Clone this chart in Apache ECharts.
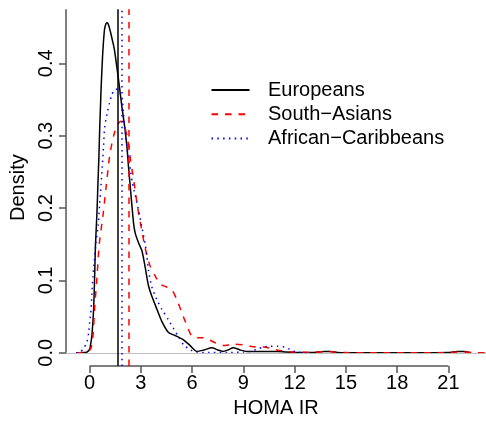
<!DOCTYPE html>
<html>
<head>
<meta charset="utf-8">
<script src="https://cdn.jsdelivr.net/npm/echarts@6/dist/echarts.min.js"></script>
<style>html,body{margin:0;padding:0;background:#fff;}#c{width:486px;height:423px;}</style>
</head>
<body>
<div id="c"></div>
<script>
// ---- data ----
var seriesNames = ['Europeans', 'South\u2212Asians', 'African\u2212Caribbeans'];
var xTicks = [0, 3, 6, 9, 12, 15, 18, 21];
var yTicks = [0, 0.1, 0.2, 0.3, 0.4];
var meanValues = [1.64, 2.27, 1.85];

var eurX = [-0.8,-0.5,-0.3,-0.16,0,0.05,0.13,0.23,0.29,0.34,0.42,0.48,0.54,0.59,0.63,0.67,0.72,0.78,0.87,0.96,1.04,1.12,1.2,1.3,1.44,1.6,1.75,1.89,2.05,2.18,2.27,2.37,2.47,2.58,2.67,2.86,3.06,3.25,3.44,3.64,3.94,4.23,4.61,5.0,5.49,5.88,6.27,6.7,7.15,7.5,7.8,8.1,8.4,8.8,9.2,10,11,11.5,12,13,13.7,14.1,14.5,15,18,21,21.5,21.9,22.3];
var eurY = [0,0,0.0005,0.001,0.005,0.011,0.024,0.06,0.105,0.15,0.19,0.231,0.271,0.312,0.339,0.366,0.393,0.42,0.447,0.455,0.456,0.452,0.445,0.435,0.42,0.393,0.366,0.339,0.312,0.285,0.258,0.231,0.204,0.177,0.165,0.152,0.141,0.118,0.093,0.078,0.06,0.043,0.028,0.024,0.018,0.010,0.002,0.004,0.007,0.004,0.002,0.004,0.007,0.004,0.002,0.002,0.002,0.001,0.0005,0.0005,0.002,0.002,0.0005,0,0,0.0003,0.002,0.002,0.0003];

var saX = [-0.8,-0.5,-0.26,-0.06,0.1,0.2,0.3,0.43,0.56,0.78,0.97,1.16,1.3,1.44,1.6,1.75,1.9,2.05,2.2,2.3,2.4,2.5,2.6,2.7,2.86,3.06,3.2,3.35,3.54,3.84,4.13,4.5,4.81,5.11,5.4,5.69,5.98,6.3,6.66,6.9,7.25,7.5,7.83,8.2,8.5,9.0,9.4,9.8,10.2,10.6,10.95,11.5,12,13,13.6,13.9,14.3,15,18,21,21.5,21.9,22.5,23.3];
var saY = [0,0.0005,0.001,0.002,0.008,0.025,0.065,0.105,0.15,0.19,0.231,0.271,0.289,0.303,0.313,0.319,0.32,0.312,0.298,0.282,0.265,0.25,0.235,0.218,0.193,0.168,0.15,0.135,0.12,0.106,0.095,0.091,0.087,0.073,0.055,0.038,0.023,0.021,0.021,0.019,0.015,0.012,0.010,0.011,0.012,0.011,0.009,0.008,0.008,0.006,0.004,0.002,0.001,0.0005,0.0015,0.002,0.001,0.0003,0.0002,0.0003,0.001,0.001,0.0003,0.0002];

var acX = [-0.8,-0.65,-0.55,-0.36,-0.16,-0.06,0,0.08,0.13,0.19,0.27,0.36,0.5,0.58,0.66,0.74,0.81,0.88,1.05,1.16,1.3,1.5,1.65,1.8,1.9,1.98,2.08,2.18,2.3,2.4,2.5,2.67,2.86,3.06,3.25,3.35,3.44,3.64,3.94,4.23,4.6,4.9,5.2,5.5,5.9,6.3,7,8,9,9.4,9.8,10.2,10.6,11.0,11.4,11.7,12.0,12.4,12.8];
var acY = [0,0.0005,0.001,0.006,0.015,0.028,0.042,0.06,0.082,0.105,0.127,0.15,0.177,0.204,0.231,0.258,0.285,0.312,0.334,0.345,0.357,0.364,0.364,0.358,0.35,0.33,0.307,0.285,0.265,0.25,0.235,0.217,0.197,0.173,0.15,0.132,0.114,0.091,0.073,0.06,0.046,0.034,0.022,0.011,0.004,0.001,0.0005,0.0005,0.001,0.002,0.005,0.008,0.009,0.009,0.008,0.005,0.002,0.0005,0];

// ---- layout constants ----
var XMIN = -1.386, XMAX = 23.2, YMIN = -0.0182, YMAX = 0.4746;
var FONT = "'Liberation Sans', Arial, Helvetica, sans-serif";

function zip(xs, ys) { return xs.map(function (x, i) { return [x, ys[i]]; }); }

var colors = ['#000000', '#FF0000', '#0000FF'];
var lineTypes = ['solid', [6.5, 7], [1.5, 4.3]];
var curves = [zip(eurX, eurY), zip(saX, saY), zip(acX, acY)];

var series = curves.map(function (d, i) {
  var s = {
    name: seriesNames[i], type: 'line', data: d, symbol: 'none', smooth: 0.25,
    silent: true, z: 3,
    lineStyle: { color: colors[i], width: 1.5, type: lineTypes[i] },
    itemStyle: { color: colors[i] },
    markLine: {
      silent: true, symbol: 'none', label: { show: false },
      data: [{ xAxis: meanValues[i], lineStyle: { color: colors[i], width: 1.5, type: lineTypes[i] } }]
    }
  };
  if (i === 0) {
    s.markLine.data.unshift({ yAxis: 0, lineStyle: { color: '#BEBEBE', width: 1.2, type: 'solid' } });
  }
  return s;
});
// axis lines (R style: x axis from first to last tick, y axis from 0 up)
series.push({
  type: 'line', data: [[xTicks[0], YMIN], [xTicks[xTicks.length - 1], YMIN]], symbol: 'none', clip: false, silent: true,
  lineStyle: { color: '#555', width: 1.5 }, z: 4
});
series.push({
  type: 'line', data: [[XMIN, 0], [XMIN, YMAX]], symbol: 'none', clip: false, silent: true,
  lineStyle: { color: '#555', width: 1.5 }, z: 4
});

var chart = echarts.init(document.getElementById('c'), null, { renderer: 'canvas' });
chart.setOption({
  animation: false,
  backgroundColor: '#fff',
  grid: { left: 66, right: 0, top: 9.3, bottom: 48.7, containLabel: false },
  legend: {
    data: seriesNames, orient: 'vertical', left: 210.5, top: 80, padding: 0,
    itemWidth: 38, itemHeight: 14, itemGap: 4.3, selectedMode: false,
    itemStyle: { opacity: 0 },
    textStyle: { fontFamily: FONT, fontSize: 20, color: '#000', lineHeight: 20, padding: [0, 0, 0, 13.5] }
  },
  xAxis: {
    type: 'value', min: XMIN, max: XMAX,
    axisLine: { show: false, onZero: false }, splitLine: { show: false },
    axisTick: { show: true, customValues: xTicks, length: 7, lineStyle: { color: '#555', width: 1.5 } },
    axisLabel: { customValues: xTicks, fontFamily: FONT, fontSize: 20, color: '#000', margin: 7 },
    name: 'HOMA IR', nameLocation: 'middle', nameGap: 32,
    nameTextStyle: { fontFamily: FONT, fontSize: 20, color: '#000' }
  },
  yAxis: {
    type: 'value', min: YMIN, max: YMAX,
    axisLine: { show: false, onZero: false }, splitLine: { show: false },
    axisTick: { show: true, customValues: yTicks, length: 7, lineStyle: { color: '#555', width: 1.5 } },
    axisLabel: { customValues: yTicks, rotate: 90, fontFamily: FONT, fontSize: 20, color: '#000', margin: 10,
      formatter: function (v) { return v.toFixed(1); } },
    name: 'Density', nameLocation: 'middle', nameGap: 31,
    nameTextStyle: { fontFamily: FONT, fontSize: 20, color: '#000' }
  },
  series: series
});
</script>
</body>
</html>
